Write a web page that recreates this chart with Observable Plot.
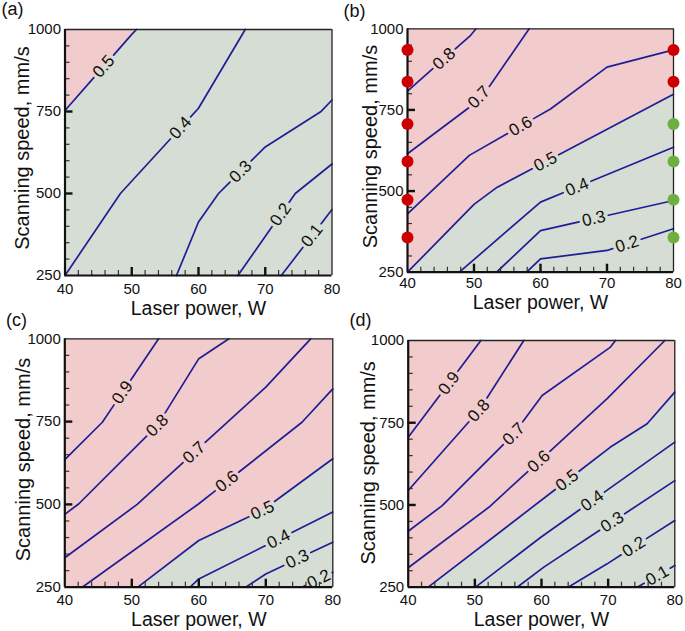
<!DOCTYPE html>
<html><head><meta charset="utf-8">
<script src="https://cdn.jsdelivr.net/npm/d3@7"></script>
<script src="https://cdn.jsdelivr.net/npm/@observablehq/plot@0.6"></script>
<style>
body{margin:0;background:#fff;width:685px;height:631px;position:relative;overflow:hidden;font-family:'Liberation Sans',Arial,sans-serif}
.panel{position:absolute}
.panel svg{overflow:visible}
</style></head><body>
<div id="pa" class="panel"></div>
<div id="pb" class="panel"></div>
<div id="pc" class="panel"></div>
<div id="pd" class="panel"></div>
<script>
// ---------- data ----------
const powerTicks = [40, 50, 60, 70, 80];
const speedTicks = [250, 500, 750, 1000];
const minorPower = [42,44,46,48,52,54,56,58,62,64,66,68,72,74,76,78];
const majorPower = [50, 60, 70];
const minorSpeed = [300,350,400,450,550,600,650,700,800,850,900,950];
const majorSpeed = [500, 750];

// panel (a)
const levelsA = [0.5, 0.4, 0.3, 0.2, 0.1];
const linesA = [
  [[40,753],[50,985],[50.7,1000]],
  [[40,250],[48.3,500],[60,760],[67,1000]],
  [[56.7,250],[60,413],[63,500],[70,642],[78.3,749],[80,785]],
  [[65.9,250],[74.5,500],[80,590]],
  [[72.4,250],[80,451]]
];
const labelXA = [45.8, 57.3, 66.3, 72.3, 77];

// panel (b)
const levelsB = [0.8, 0.7, 0.6, 0.5, 0.4, 0.3, 0.2];
const linesB = [
  [[40,808],[49.5,980],[50.3,1000]],
  [[40,615],[49.3,758],[52.3,822],[58.3,1000]],
  [[40,430],[49.3,610],[61.5,753],[70,882],[80,935]],
  [[40,250],[50,459],[53.5,512],[80,798]],
  [[47.8,250],[60,466],[80,635]],
  [[53.4,250],[60,378],[80,471]],
  [[57.9,250],[60,291],[70,317],[80,384]]
];
const labelXB = [45.5, 50.75, 57, 60.75, 65.5, 68, 73];
const dotSpeeds = [935, 837, 707, 591, 473, 357];
const dotLeftColor = ["red","red","red","red","red","red"];
const dotRightColor = ["red","red","green","green","green","green"];

// panel (c)
const levelsC = [0.9, 0.8, 0.7, 0.6, 0.5, 0.4, 0.3, 0.2];
const linesC = [
  [[40,635],[45.6,748],[54,1000]],
  [[40,470],[42.1,502],[53.8,738],[60,940],[64.5,1000]],
  [[40,339],[50.8,500],[70,854],[76.7,1000]],
  [[42.6,250],[60,502],[75.4,748],[80,849]],
  [[50.9,250],[60,391],[69.5,482],[80,638]],
  [[58.7,250],[60,275],[80,477]],
  [[67,250],[70,290],[80,386]],
  [[75.4,250],[80,295]]
];
const labelXC = [48.6, 53.8, 59.3, 64.2, 69.5, 71.9, 74.7, 77.9];

// panel (d)
const levelsD = [0.9, 0.8, 0.7, 0.6, 0.5, 0.4, 0.3, 0.2, 0.1];
const linesD = [
  [[40,706],[42.1,762],[50.9,1000]],
  [[40,544],[50.6,787],[57.35,1000]],
  [[40,420],[45.1,498],[55.85,716],[60.1,833],[70.35,980],[71.1,1000]],
  [[40,309],[52.1,493],[69.85,823],[78.5,1000]],
  [[43,250],[70.35,676],[75.85,747],[80,843]],
  [[50.1,250],[59.9,402],[80,691]],
  [[56.35,250],[60.35,311],[80,574]],
  [[64,250],[69.85,321],[80,453]],
  [[74.35,250],[80,316]]
];
const labelXD = [46.1, 50.6, 55.85, 59.6, 63.85, 67.6, 70.6, 73.85, 77.35];

// ---------- drawing ----------
const FONT = "'Liberation Sans', Arial, Helvetica, sans-serif";
const PINK = "#f2cbcc", GREEN = "#d6ddd4", LINE = "#1e1e96";
const DOT = {red: "#cc0000", green: "#6db040"};

function drawPanel(id, cfg) {
  const {left, top, width, height, ml, mr, mt, mb, lines, levels, labelX,
         tickPad, xTitleDy, yTitleDx, yTitleDy, tag, tagDx, tagDy, extra = []} = cfg;
  const pw = width - ml - mr, ph = height - mt - mb;
  const toPx = ([x, y]) => [(x - 40) / 40 * pw, (1000 - y) / 750 * ph];
  const toData = ([px, py]) => [40 + px / pw * 40, 1000 - py / ph * 750];
  const gap = 15;
  const segs = [], labels = [];
  lines.forEach((pts, k) => {
    const P = pts.map(toPx);
    const cum = [0];
    for (let i = 1; i < P.length; i++) cum.push(cum[i-1] + Math.hypot(P[i][0]-P[i-1][0], P[i][1]-P[i-1][1]));
    const lx = labelX[k];
    let i = 0;
    while (i < pts.length - 2 && pts[i+1][0] < lx) i++;
    const t = (lx - pts[i][0]) / (pts[i+1][0] - pts[i][0]);
    const sL = cum[i] + t * (cum[i+1] - cum[i]);
    const ang = Math.atan2(P[i+1][1] - P[i][1], P[i+1][0] - P[i][0]) * 180 / Math.PI;
    const at = (s) => {
      let j = 0;
      while (j < P.length - 2 && cum[j+1] < s) j++;
      const u = (s - cum[j]) / (cum[j+1] - cum[j]);
      return [P[j][0] + u * (P[j+1][0] - P[j][0]), P[j][1] + u * (P[j+1][1] - P[j][1])];
    };
    const total = cum[cum.length - 1];
    const p1 = [], p2 = [];
    if (sL - gap > 0) {
      P.forEach((p, j) => { if (cum[j] < sL - gap) p1.push(p); });
      p1.push(at(sL - gap));
    }
    if (sL + gap < total) {
      p2.push(at(sL + gap));
      P.forEach((p, j) => { if (cum[j] > sL + gap) p2.push(p); });
    }
    p1.forEach(p => { const d = toData(p); segs.push({x: d[0], y: d[1], z: k + "a"}); });
    p2.forEach(p => { const d = toData(p); segs.push({x: d[0], y: d[1], z: k + "b"}); });
    const L = toData(at(sL));
    labels.push({x: L[0], y: L[1], text: levels[k].toFixed(1), rotate: ang});
  });
  const c05 = lines[levels.indexOf(0.5)];
  const region = (c05[0][1] <= 250 && c05[0][0] > 40) ? [[40, 250], ...c05] : c05;
  // tick lengths (pixels) converted to data units of this frame
  const tx = (px) => px / pw * 40, ty = (px) => px / ph * 750;

  const svg = Plot.plot({
    width, height,
    marginLeft: ml, marginRight: mr, marginTop: mt, marginBottom: mb,
    x: {domain: [40, 80]},
    y: {domain: [250, 1000]},
    style: {fontFamily: FONT, background: "transparent", overflow: "visible", color: "#111"},
    marks: [
      Plot.frame({fill: GREEN}),
      Plot.areaY(region, {x: d => d[0], y1: d => d[1], y2: () => 1000, fill: PINK}),
      Plot.line(segs, {x: "x", y: "y", z: "z", stroke: LINE, strokeWidth: 1.7}),
      Plot.text(labels, {x: "x", y: "y", text: "text", rotate: "rotate", fontSize: 17, fill: "#111"}),
      Plot.ruleX(minorPower, {x: d => d, y1: () => 250, y2: () => 250 + ty(5), strokeWidth: 1.2, stroke: "#333"}),
      Plot.ruleX(majorPower, {x: d => d, y1: () => 250, y2: () => 250 + ty(8), strokeWidth: 2.4, stroke: "#111"}),
      Plot.ruleY(minorSpeed, {y: d => d, x1: () => 40, x2: () => 40 + tx(5), strokeWidth: 1.2, stroke: "#333"}),
      Plot.ruleY(majorSpeed, {y: d => d, x1: () => 40, x2: () => 40 + tx(8), strokeWidth: 2.4, stroke: "#111"}),
      Plot.ruleX([80], {strokeWidth: 1.3, stroke: "#222"}),
      Plot.ruleY([1000], {strokeWidth: 1.3, stroke: "#222"}),
      Plot.ruleX([40], {strokeWidth: 2.2, stroke: "#111"}),
      Plot.ruleY([250], {strokeWidth: 2.2, stroke: "#111"}),
      Plot.axisX(powerTicks, {tickSize: 0, tickPadding: tickPad, fontSize: 15, label: null, tickFormat: d => String(d)}),
      Plot.axisY(speedTicks, {tickSize: 0, tickPadding: 4, fontSize: 15, label: null, tickFormat: d => String(d)}),
      Plot.text(["Laser power, W"], {frameAnchor: "bottom", dy: xTitleDy, lineAnchor: "middle", textAnchor: "middle", fontSize: 19.5}),
      Plot.text(["Scanning speed, mm/s"], {frameAnchor: "left", rotate: -90, dx: yTitleDx, dy: yTitleDy, lineAnchor: "middle", textAnchor: "middle", fontSize: 20}),
      Plot.text([tag], {frameAnchor: "top-left", dx: tagDx, dy: tagDy, lineAnchor: "middle", textAnchor: "middle", fontSize: 18}),
      ...extra
    ]
  });
  const el = document.getElementById(id);
  el.style.left = left + "px";
  el.style.top = top + "px";
  el.appendChild(svg);
}

const dotsLeft = dotSpeeds.map((s, i) => ({x: 40, y: s, c: dotLeftColor[i]}));
const dotsRight = dotSpeeds.map((s, i) => ({x: 80, y: s, c: dotRightColor[i]}));
const dotMarks = [
  Plot.dot([...dotsLeft, ...dotsRight], {x: "x", y: "y", r: 6, fill: d => DOT[d.c], stroke: "none"})
];

drawPanel("pa", {left: 0, top: 0, width: 342, height: 315, ml: 64.5, mr: 10.5, mt: 29, mb: 40,
  lines: linesA, levels: levelsA, labelX: labelXA, tickPad: 8, xTitleDy: 33,
  yTitleDx: -42.8, yTitleDy: -4.5, tag: "(a)", tagDx: -52.5, tagDy: -20});
drawPanel("pb", {left: 342, top: 0, width: 343, height: 315, ml: 65, mr: 12, mt: 28.3, mb: 43.3,
  lines: linesB, levels: levelsB, labelX: labelXB, tickPad: 5.5, xTitleDy: 31,
  yTitleDx: -37, yTitleDy: -4, tag: "(b)", tagDx: -53, tagDy: -17.3, extra: dotMarks});
drawPanel("pc", {left: 0, top: 310, width: 342, height: 321, ml: 64.3, mr: 9.7, mt: 28.3, mb: 44.3,
  lines: linesC, levels: levelsC, labelX: labelXC, tickPad: 7.5, xTitleDy: 32.5,
  yTitleDx: -41, yTitleDy: -3.5, tag: "(c)", tagDx: -48.3, tagDy: -18.3});
drawPanel("pd", {left: 342, top: 310, width: 343, height: 321, ml: 65.7, mr: 10.7, mt: 30, mb: 44.3,
  lines: linesD, levels: levelsD, labelX: labelXD, tickPad: 7.5, xTitleDy: 32.5,
  yTitleDx: -39.4, yTitleDy: -1, tag: "(d)", tagDx: -47.7, tagDy: -20});
</script>
</body></html>
